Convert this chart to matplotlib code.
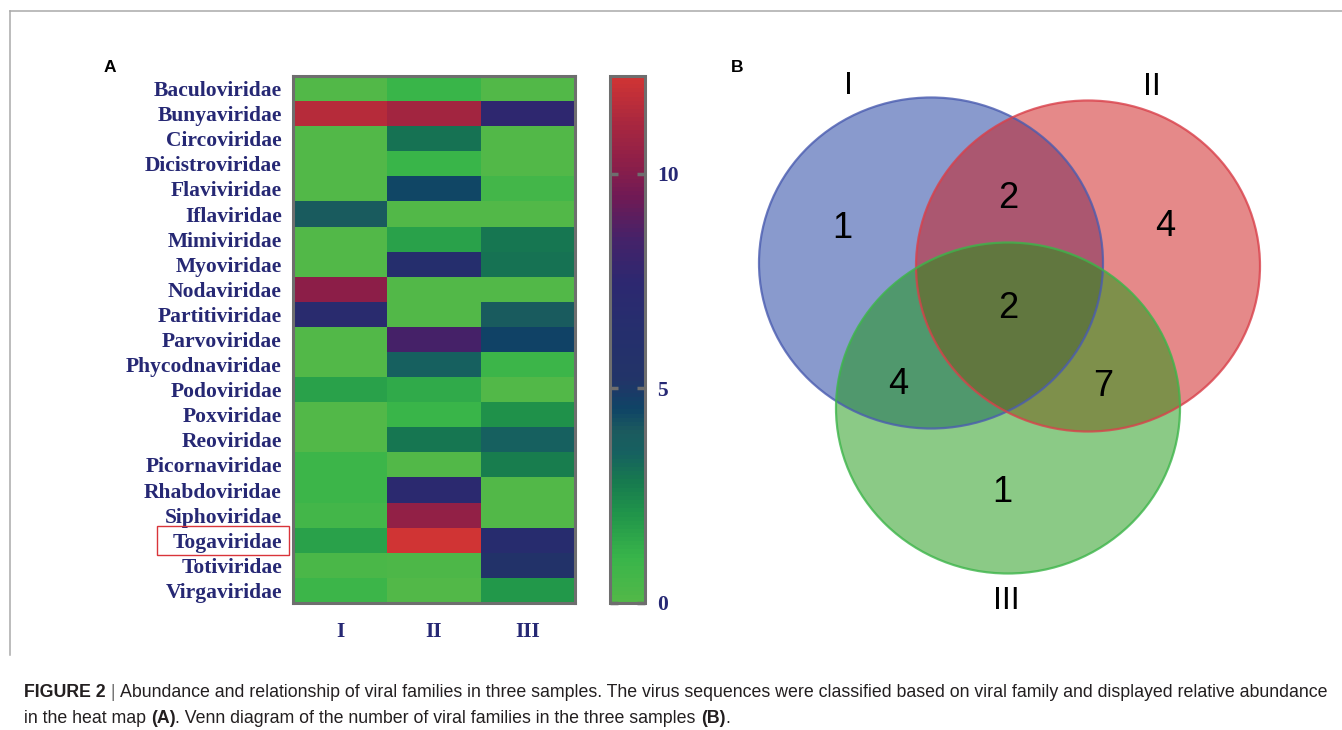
import matplotlib
matplotlib.use('Agg')
import matplotlib.pyplot as plt
import numpy as np
from matplotlib.colors import LinearSegmentedColormap
from matplotlib.patches import Ellipse, Rectangle
from matplotlib.lines import Line2D

# ---------------- data ----------------
families = ['Baculoviridae', 'Bunyaviridae', 'Circoviridae', 'Dicistroviridae',
            'Flaviviridae', 'Iflaviridae', 'Mimiviridae', 'Myoviridae',
            'Nodaviridae', 'Partitiviridae', 'Parvoviridae', 'Phycodnaviridae',
            'Podoviridae', 'Poxviridae', 'Reoviridae', 'Picornaviridae',
            'Rhabdoviridae', 'Siphoviridae', 'Togaviridae', 'Totiviridae',
            'Virgaviridae']
samples = ['I', 'II', 'III']
abund_I = [0.0, 11.6, 0.0, 0.0, 0.0, 3.9, 0.0, 0.0, 10.2, 7.0, 0.0,
           0.0, 1.7, 0.0, 0.0, 0.9, 0.9, 0.6, 1.7, 0.3, 0.9]
abund_II = [1.0, 11.0, 3.0, 1.0, 4.5, 0.0, 1.7, 6.5, 0.0, 0.0, 8.5,
            3.5, 1.4, 1.0, 2.9, 0.0, 7.2, 10.4, 12.2, 0.2, 0.0]
abund_III = [0.0, 7.5, 0.0, 0.0, 0.6, 0.0, 2.9, 3.0, 0.0, 3.9, 4.6,
             0.9, 0.0, 2.2, 3.5, 2.7, 0.0, 0.0, 6.8, 5.5, 2.0]
cbar_ticks = [0, 5, 10]
vmin, vmax = 0, 12.28
highlight = 'Togaviridae'

venn_names = ['I', 'II', 'III']
venn_counts = {'I': 1, 'II': 4, 'III': 1, 'I&II': 2, 'I&III': 4,
               'II&III': 7, 'I&II&III': 2}

caption_line1 = [('FIGURE 2', 'bold', '#231F20'), (' | ', 'normal', '#777777'),
                 ('Abundance and relationship of viral families in three samples. '
                  'The virus sequences were classified based on viral family and '
                  'displayed relative abundance', 'normal', '#231F20')]
caption_line2 = [('in the heat map ', 'normal', '#231F20'), ('(A)', 'bold', '#231F20'),
                 ('. Venn diagram of the number of viral families in the three samples ',
                  'normal', '#231F20'), ('(B)', 'bold', '#231F20'), ('.', 'normal', '#231F20')]

# ---------------- layout helpers ----------------
W, H = 1342, 730
def box(x0, y0, x1, y1):
    return [x0 / W, 1 - y1 / H, (x1 - x0) / W, (y1 - y0) / H]
def fx(x):
    return x / W
def fy(y):
    return 1 - y / H

navy = '#262874'
serif = ['Liberation Serif', 'DejaVu Serif']
sans = ['Liberation Sans', 'DejaVu Sans']

fig = plt.figure(figsize=(W / 100, H / 100), dpi=100)
fig.patch.set_facecolor('white')

# frame lines
fig.add_artist(Line2D([fx(10), 1.0], [fy(11), fy(11)], color='#AAAAAA', lw=1.1,
                      transform=fig.transFigure))
fig.add_artist(Line2D([fx(10), fx(10)], [fy(11), fy(655)], color='#AAAAAA', lw=1.1,
                      transform=fig.transFigure))

# ---------------- colormap ----------------
stops = [(0.0, '#52B848'), (1.0, '#39B54A'), (2.0, '#21964A'), (2.8, '#177A4F'),
         (3.5, '#166060'), (4.0, '#1B5A5E'), (4.5, '#0F4466'), (5.2, '#223468'),
         (6.5, '#262E6E'), (7.5, '#2D2870'), (8.5, '#452269'), (9.5, '#701A55'),
         (10.3, '#8E1F48'), (11.2, '#A8273F'), (12.28, '#D03434')]
cmap = LinearSegmentedColormap.from_list('vir', [(v / vmax, c) for v, c in stops], N=128)

# ---------------- heatmap ----------------
data = np.array([abund_I, abund_II, abund_III]).T
ax = fig.add_axes(box(293, 76, 575, 603))
im = ax.imshow(data, cmap=cmap, vmin=vmin, vmax=vmax, aspect='auto',
               interpolation='nearest')
ax.set_yticks(range(len(families)))
ax.set_yticklabels(families, fontfamily=serif, fontweight='bold', fontsize=15.5,
                   color=navy)
ax.set_xticks(range(len(samples)))
ax.set_xticklabels(samples, fontfamily=serif, fontweight='bold', fontsize=15.5,
                   color=navy)
ax.tick_params(axis='both', length=0)
ax.tick_params(axis='y', pad=8)
ax.tick_params(axis='x', pad=14)
for s in ax.spines.values():
    s.set_color('#6E6E6E')
    s.set_linewidth(2.2)

# highlight box around label
hi = families.index(highlight)
row_h = (603 - 76) / len(families)
yc = 76 + row_h * (hi + 0.5)
fig.add_artist(Rectangle((fx(157), fy(yc + 14.5)), (289 - 157) / W, 29 / H,
                         transform=fig.transFigure, fill=False,
                         edgecolor='#D9343A', lw=1.0))

# colorbar
cax = fig.add_axes(box(610, 76, 645, 603))
cb = fig.colorbar(im, cax=cax, ticks=cbar_ticks)
cb.outline.set_edgecolor('#6E6E6E')
cb.outline.set_linewidth(2.2)
cax.tick_params(direction='in', length=6, width=2.5, color='#6E6E6E',
                left=True, right=True, pad=9)
for t in cax.get_yticklabels():
    t.set_fontfamily(serif)
    t.set_fontweight('bold')
    t.set_fontsize(15.5)
    t.set_color(navy)

fig.text(fx(104), fy(68), 'A', fontfamily=sans, fontweight='bold', fontsize=12.5,
         va='center', ha='left')

# ---------------- venn ----------------
vax = fig.add_axes(box(720, 55, 1290, 625))
vax.set_xlim(720, 1290)
vax.set_ylim(625, 55)
vax.axis('off')
circles = {'I': ((931, 263), '#15379D', '#4A5CB0'),
           'II': ((1088, 266), '#CD1515', '#D9404A'),
           'III': ((1008, 408), '#19970F', '#3DB54A')}
for name in venn_names:
    (cx, cy), fc, ec = circles[name]
    vax.add_patch(Ellipse((cx, cy), 344, 331, facecolor=fc, alpha=0.5, lw=0))
for name in venn_names:
    (cx, cy), fc, ec = circles[name]
    vax.add_patch(Ellipse((cx, cy), 344, 331, fill=False, edgecolor=ec, alpha=0.8, lw=1.6))

region_pos = {'I': (842, 229), 'II': (1165, 226), 'III': (1002, 492),
              'I&II': (1008, 199), 'I&III': (898, 384), 'II&III': (1103, 386),
              'I&II&III': (1008, 308)}
for key, val in venn_counts.items():
    x, y = region_pos[key]
    vax.text(x, y, str(val), fontfamily=sans, fontsize=26, ha='center', va='center',
             color='black')
label_pos = {'I': (848, 86), 'II': (1152, 87), 'III': (1006, 601)}
for name in venn_names:
    x, y = label_pos[name]
    vax.text(x, y, name, fontfamily=sans, fontsize=23, ha='center', va='center',
             color='black')

fig.text(fx(731), fy(67), 'B', fontfamily=sans, fontweight='bold', fontsize=12.5,
         va='center', ha='left')

# ---------------- caption ----------------
renderer = fig.canvas.get_renderer()
def put_line(pieces, x, y, size):
    for s, w, c in pieces:
        t = fig.text(fx(x), fy(y), s, fontfamily=sans, fontweight=w, fontsize=size,
                     color=c, va='baseline', ha='left')
        bb = t.get_window_extent(renderer)
        x += bb.width
put_line(caption_line1, 24, 697, 12.8)
put_line(caption_line2, 24, 723, 12.8)

fig.savefig('out.png', dpi=100)
